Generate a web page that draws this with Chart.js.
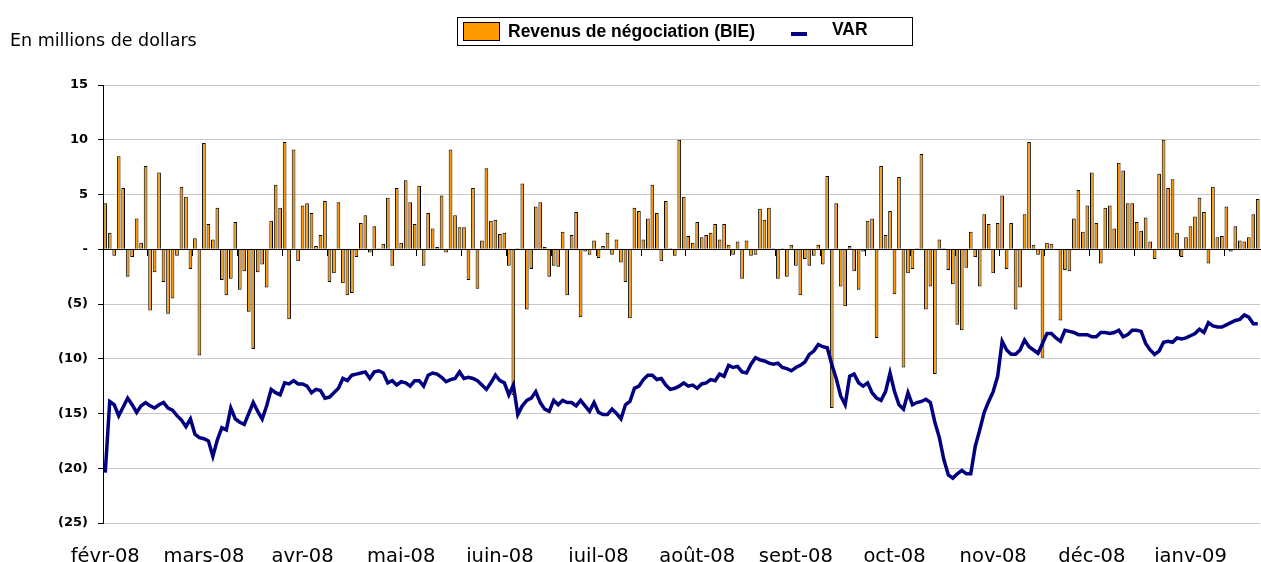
<!DOCTYPE html>
<html>
<head>
<meta charset="utf-8">
<script src="https://cdn.jsdelivr.net/npm/chart.js@4/dist/chart.umd.min.js"></script>
<style>
  body { margin: 0; background: #fff; }
  #wrap { position: relative; width: 1261px; height: 562px; }
  #unit { position: absolute; left: 10px; top: 30px; font: 17.5px "DejaVu Sans", sans-serif; color: #000; }
  #legend { position: absolute; left: 457px; top: 17px; width: 454px; height: 27px; border: 1px solid #000;
    font: bold 17.5px "Liberation Sans", Arial, sans-serif; color: #000; }
  #legend .sw { position: absolute; left: 5px; top: 4px; width: 37px; height: 19px; background: #ff9900; border: 1px solid #000; box-sizing: border-box; }
  #legend .t1 { position: absolute; left: 50px; top: 3px; }
  #legend .ln { position: absolute; left: 333px; top: 14px; width: 16px; height: 4px; background: #000080; }
  #legend .t2 { position: absolute; left: 374px; top: 1px; }
</style>
</head>
<body>
<div id="wrap">
  <canvas id="myChart" width="1261" height="562"></canvas>
  <div id="unit">En millions de dollars</div>
  <div id="legend"><span class="sw"></span><span class="t1">Revenus de négociation (BIE)</span><span class="ln"></span><span class="t2">VAR</span></div>
</div>
<script>
const months = ["févr-08", "mars-08", "avr-08", "mai-08", "juin-08", "juil-08", "août-08", "sept-08", "oct-08", "nov-08", "déc-08", "janv-09"];

const revenus = [
  4.2, 1.5, -0.6, 8.5, 5.6, -2.5, -0.7, 2.8, 0.6, 7.6,
  -5.6, -2.1, 7.0, -3.0, -5.9, -4.5, -0.6, 5.7, 4.8, -1.8,
  1.0, -9.7, 9.7, 2.3, 0.9, 3.8, -2.8, -4.2, -2.7, 2.5,
  -3.7, -2.0, -5.7, -9.1, -2.1, -1.4, -3.5, 2.6, 5.9, 3.8,
  9.8, -6.4, 9.1, -1.1, 4.0, 4.2, 3.3, 0.3, 1.3, 4.4,
  -3.0, -2.2, 4.3, -3.1, -4.2, -4.0, -0.7, 2.4, 3.1, -0.3,
  2.1, 0.1, 0.5, 4.7, -1.5, 5.6, 0.6, 6.3, 4.3, 2.3,
  5.8, -1.5, 3.3, 1.9, 0.2, 4.9, -0.3, 9.1, 3.1, 2.0,
  2.0, -2.8, 5.6, -3.6, 0.8, 7.4, 2.6, 2.7, 1.4, 1.5,
  -1.5, -13.3, 0.1, 6.0, -5.5, -1.8, 3.9, 4.3, 0.2, -2.5,
  -1.5, -1.6, 1.6, -4.2, 1.3, 3.4, -6.2, -0.2, -0.5, 0.8,
  -0.8, 0.3, 1.5, -0.5, 0.9, -1.2, -3.0, -6.3, 3.8, 3.5,
  0.9, 2.8, 5.9, 3.3, -1.1, 4.4, 0.1, -0.6, 10.0, 4.8,
  1.2, 0.6, 2.5, 1.1, 1.3, 1.5, 2.3, 0.9, 2.3, 0.4,
  -0.5, 0.7, -2.7, 0.8, -0.6, -0.5, 3.7, 2.7, 3.8, 0.1,
  -2.7, 0.1, -2.5, 0.4, -1.5, -4.2, -0.9, -1.5, -0.6, 0.4,
  -1.4, 6.7, -14.5, 4.2, -3.4, -5.2, 0.3, -2.0, -3.7, -0.2,
  2.6, 2.8, -8.1, 7.6, 1.3, 3.5, -4.1, 6.6, -10.8, -2.2,
  -1.8, 0.1, 8.7, -5.5, -3.4, -11.4, 0.9, 0.1, -1.9, -3.2,
  -6.9, -7.4, -1.7, 1.6, -0.7, -3.4, 3.2, 2.3, -2.2, 2.4,
  4.9, -1.8, 2.4, -5.5, -3.5, 3.2, 9.8, 0.4, -0.5, -9.9,
  0.6, 0.5, -0.1, -6.5, -1.9, -2.0, 2.8, 5.4, 1.6, 4.0,
  7.0, 2.4, -1.3, 3.8, 4.0, 1.9, 7.9, 7.2, 4.2, 4.2,
  2.5, 1.7, 2.9, 0.7, -0.9, 6.9, 10.0, 5.6, 6.4, 1.5,
  -0.7, 1.1, 2.1, 3.0, 4.7, 3.4, -1.3, 5.7, 1.1, 1.2,
  3.9, -0.2, 2.1, 0.8, 0.7, 1.1, 3.2, 4.6
];

const varSeries = [
  -20.4, -13.9, -14.2, -15.2, -14.4, -13.6, -14.2, -14.9, -14.3, -14.0,
  -14.3, -14.5, -14.2, -14.0, -14.5, -14.7, -15.2, -15.6, -16.2, -15.5,
  -16.9, -17.2, -17.3, -17.5, -18.9, -17.4, -16.3, -16.5, -14.5, -15.5,
  -15.8, -16.0, -15.0, -14.0, -14.8, -15.5, -14.3, -12.8, -13.1, -13.3,
  -12.2, -12.3, -12.0, -12.3, -12.3, -12.5, -13.1, -12.8, -12.9, -13.6,
  -13.5, -13.1, -12.7, -11.8, -12.0, -11.5, -11.4, -11.3, -11.2, -11.8,
  -11.2, -11.1, -11.3, -12.2, -12.0, -12.4, -12.1, -12.2, -12.5, -12.0,
  -12.0, -12.5, -11.5, -11.3, -11.4, -11.7, -12.1, -11.9, -11.8, -11.2,
  -11.8, -11.7, -11.8, -12.0, -12.4, -12.8, -12.2, -11.5, -12.0, -12.2,
  -13.3, -12.4, -15.1, -14.3, -13.8, -13.6, -13.0, -14.0, -14.6, -14.8,
  -13.8, -14.2, -13.8, -14.0, -14.0, -14.3, -13.8, -14.3, -14.8, -14.0,
  -14.9, -15.1, -15.1, -14.6, -15.0, -15.5, -14.2, -13.9, -12.7, -12.5,
  -11.9, -11.5, -11.5, -11.9, -11.8, -12.4, -12.8, -12.7, -12.5, -12.2,
  -12.5, -12.4, -12.7, -12.3, -12.2, -11.9, -12.0, -11.4, -11.6, -10.6,
  -10.8, -10.7, -11.2, -11.3, -10.5, -9.9, -10.1, -10.2, -10.4, -10.5,
  -10.4, -10.8, -10.9, -11.1, -10.8, -10.6, -10.3, -9.6, -9.3, -8.7,
  -8.9, -9.0, -10.5, -11.8, -13.4, -14.2, -11.6, -11.4, -12.2, -12.5,
  -12.2, -13.1, -13.6, -13.8, -13.0, -11.3, -13.0, -14.2, -14.6, -13.1,
  -14.2, -14.0, -13.9, -13.7, -14.0, -15.8, -17.2, -19.2, -20.6, -20.9,
  -20.5, -20.2, -20.5, -20.5, -18.0, -16.5, -14.9, -13.9, -13.0, -11.6,
  -8.4, -9.2, -9.6, -9.6, -9.2, -8.3, -8.9, -9.2, -9.5, -8.6,
  -7.7, -7.7, -8.1, -8.4, -7.4, -7.5, -7.6, -7.8, -7.8, -7.8,
  -8.0, -8.0, -7.6, -7.6, -7.7, -7.6, -7.4, -8.0, -7.8, -7.4,
  -7.4, -7.5, -8.6, -9.2, -9.6, -9.3, -8.5, -8.4, -8.5, -8.1,
  -8.2, -8.1, -7.9, -7.7, -7.3, -7.6, -6.7, -7.0, -7.1, -7.1,
  -6.9, -6.7, -6.5, -6.4, -6.0, -6.2, -6.8, -6.8
];

// one month label every 22 trading days
const labels = revenus.map((v, i) => (i % 22 === 0 ? months[i / 22] : ""));

const yLabel = (v) => (v === 0 ? "-" : v < 0 ? "(" + -v + ")" : String(v));

const ctx = document.getElementById("myChart").getContext("2d");
const myChart = new Chart(ctx, {
  data: {
    labels: labels,
    datasets: [
      {
        type: "line",
        label: "VAR",
        data: varSeries,
        borderColor: "#000080",
        borderWidth: 3.5,
        pointRadius: 0,
        tension: 0,
        order: 0,
      },
      {
        type: "bar",
        label: "Revenus de négociation (BIE)",
        data: revenus,
        backgroundColor: "#ff9900",
        borderColor: "#000",
        borderWidth: 1,
        categoryPercentage: 1,
        barPercentage: 0.82,
        order: 1,
      },
    ],
  },
  options: {
    responsive: false,
    animation: false,
    layout: { padding: { top: 85, right: 1, left: 0, bottom: 0 } },
    plugins: { legend: { display: false }, tooltip: { enabled: false } },
    scales: {
      x: {
        type: "category",
        offset: true,
        grid: { display: false },
        border: { display: false },
        ticks: {
          autoSkip: false,
          maxRotation: 0,
          padding: 14,
          color: "#000",
          font: { family: "DejaVu Sans", size: 19.5 },
        },
        afterFit: (s) => { s.height = 39; s.paddingLeft = 0; s.paddingRight = 0; },
      },
      xZero: {
        type: "category",
        axis: "x",
        position: { y: 0 },
        offset: true,
        ticks: { display: false },
        grid: {
          offset: true,
          drawOnChartArea: false,
          tickLength: 6,
          tickColor: (c) => (c.index > 0 && c.index % 10 === 0 ? "#000" : "rgba(0,0,0,0)"),
        },
        border: { display: true, color: "#000", width: 1 },
        afterFit: (s) => { s.paddingLeft = 0; s.paddingRight = 0; },
      },
      y: {
        min: -25,
        max: 15,
        ticks: {
          stepSize: 5,
          padding: 10,
          color: "#000",
          font: { family: "DejaVu Sans", size: 13, weight: "bold" },
          callback: yLabel,
        },
        grid: { color: "#c8c8c8", tickColor: "#000", tickLength: 5 },
        border: { color: "#000", width: 1 },
        afterFit: (s) => { s.width = 103; },
      },
    },
  },
});
</script>
</body>
</html>
